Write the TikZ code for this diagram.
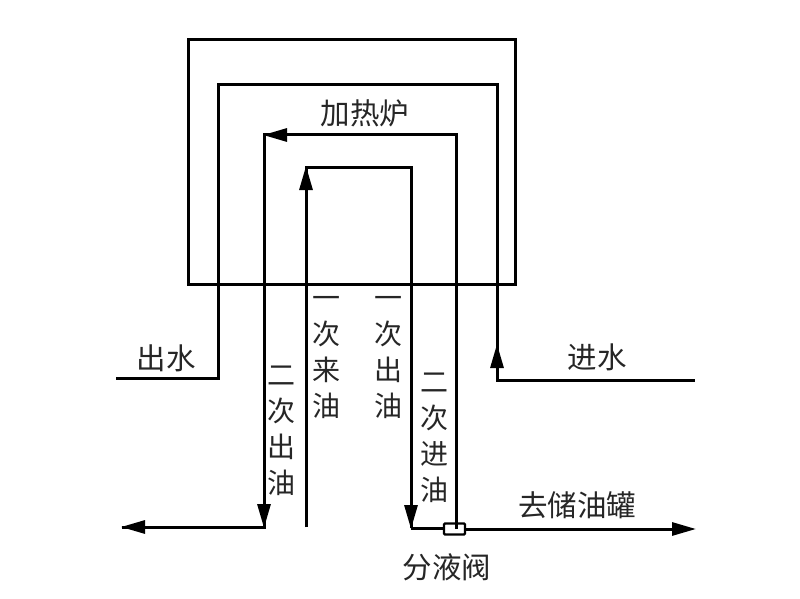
\documentclass[tikz,border=0pt]{standalone}
\usepackage{fontspec}
\setmainfont{Noto Sans CJK SC}[BoldFont={Noto Sans CJK SC}]
\usetikzlibrary{arrows.meta}
\tikzset{
  pipe/.style={draw=black,line width=3pt,line join=miter},
  flow/.style={pipe,-{Triangle[length=24pt,width=13pt]},shorten >=-1pt},
  lbl/.style={inner sep=0pt,font=\fontsize{28}{36}\selectfont,align=center,text=black!85},
  hlbl/.style={lbl,font=\fontsize{29.5}{36}\selectfont}
}
\begin{document}
\begin{tikzpicture}[x=1pt,y=-1pt]
\useasboundingbox (0,0) rectangle (800,599);
\fill[white] (0,0) rectangle (800,599);
% furnace
\node[draw=black,line width=2.6pt,outer sep=0pt,minimum width=327pt,minimum height=245pt,inner sep=0pt] (furnace) at (352,162) {};
% water
\coordinate (wo) at (116,378);
\coordinate (w1) at (218,378);
\coordinate (w2) at (218,85);
\coordinate (w3) at (497,85);
\coordinate (w4) at (497,380);
\coordinate (wi) at (695,380);
\coordinate (wa) at (497,345);
\draw[pipe] (wo) -- (w1) -- (w2) -- (w3) -- (w4) -- (wi);
\draw[flow] (w4) -- (wa);
% valve
\node[draw=black,line width=2.4pt,fill=white,minimum width=21pt,minimum height=11pt,inner sep=0pt,rounded corners=1pt] (valve) at (454.5,529) {};
% secondary loop
\coordinate (s0) at (456,529);
\coordinate (s1) at (456,135);
\coordinate (s2) at (264,135);
\coordinate (s3) at (264,527);
\coordinate (s4) at (122,527);
\draw[pipe] (s0) -- (s1) -- (s2) -- (s3) -- (s4);
\draw[flow] (s1) -- (s2);
\draw[flow] (s2) -- (s3);
\draw[flow] (s3) -- (s4);
% primary loop
\coordinate (p0) at (306,527);
\coordinate (p1) at (306,167);
\coordinate (p2) at (411,167);
\coordinate (p3) at (411,528);
\coordinate (t1) at (695,529);
\draw[pipe] (p0) -- (p1) -- (p2) -- (p3);
\draw[flow] (p0) -- (p1);
\draw[flow] (p2) -- (p3);
\draw[pipe] (p3) -- (p3 -| valve.west);
\draw[flow] (valve.east) -- (t1);
% labels
\node[hlbl] (l1) at (365,113) {加热炉};
\node[hlbl] (l2) at (166,358) {出水};
\node[hlbl] (l3) at (597,357) {进水};
\node[lbl] (l4) at (326,358) {一\\次\\来\\油};
\node[lbl] (l5) at (388,358) {一\\次\\出\\油};
\node[lbl] (l6) at (281,431) {二\\次\\出\\油};
\node[lbl] (l7) at (434,438) {二\\次\\进\\油};
\node[hlbl] (l8) at (577,505) {去储油罐};
\node[hlbl] (l9) at (447,567) {分液阀};
\end{tikzpicture}
\end{document}
